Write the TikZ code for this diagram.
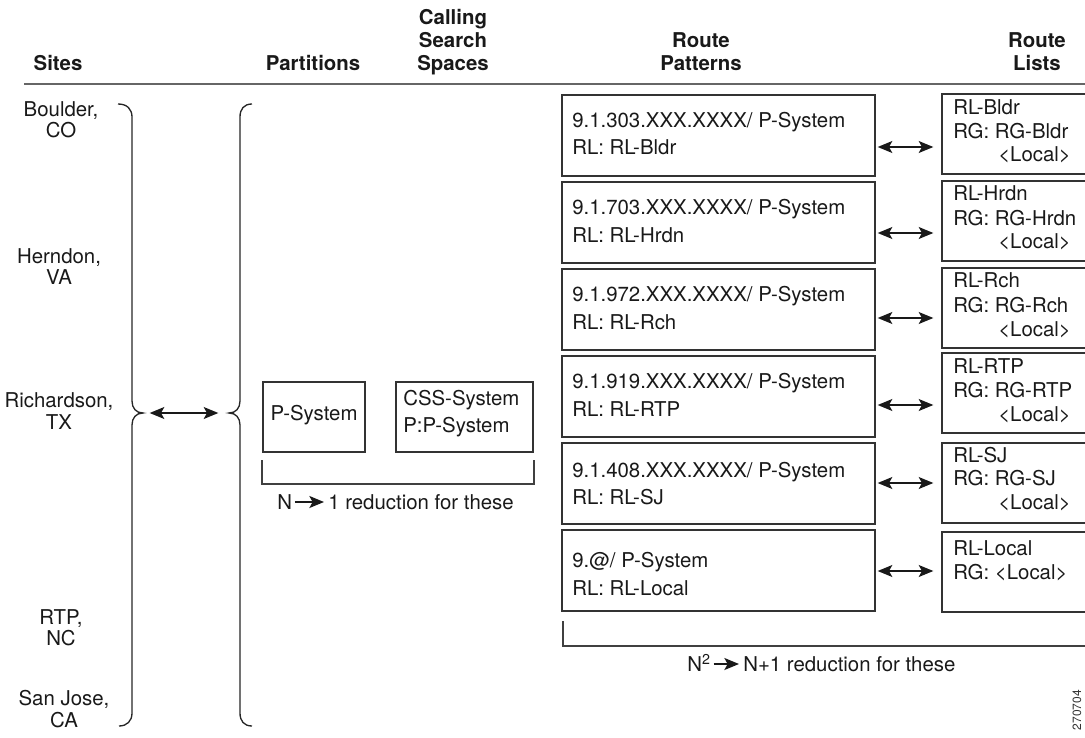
\documentclass[tikz,border=0pt]{standalone}
\usepackage{fontspec}
\setmainfont{TeX Gyre Heros}
\usetikzlibrary{arrows.meta}
\begin{document}
\begin{tikzpicture}[x=0.75pt,y=-0.75pt,
  txt/.style={inner sep=0pt, text height=11pt, text depth=0pt, font=\fontsize{15.3}{18}\selectfont, text=black!90},
  hdr/.style={txt, font=\fontsize{15.3}{18}\selectfont\bfseries},
  site/.style={inner sep=0pt, align=center, font=\fontsize{15.3}{16.1}\selectfont, text=black!90},
  pbox/.style={draw=black!80, line width=1pt, minimum width=234.75pt, minimum height=60.75pt, inner sep=0pt},
  lbox/.style={draw=black!80, line width=1pt, minimum width=114.75pt, minimum height=60pt, inner sep=0pt},
  sbox/.style={draw=black!80, line width=1pt, inner sep=0pt},
  dbl/.style={{Stealth[length=11pt,width=9pt,inset=2.5pt]}-{Stealth[length=11pt,width=9pt,inset=2.5pt]}, line width=1pt, draw=black!90},
  tarrow/.style={-{Stealth[length=11pt,width=9pt,inset=2.5pt]}, line width=1.3pt, draw=black!90},
  brk/.style={draw=black!75, line width=1pt},
  bracecurve/.style={draw=black!85, line width=1pt}
]
\useasboundingbox (0,0) rectangle (1085,738);
\clip (0,0) rectangle (1085,738);

% headers
\node[hdr] (hsites) at (58,63) {Sites};
\node[hdr] (hpart) at (313,63) {Partitions};
\node[hdr] (hcss1) at (453,17) {Calling};
\node[hdr] (hcss2) at (453,40) {Search};
\node[hdr] (hcss3) at (453,63) {Spaces};
\node[hdr] (hrp1) at (701,40) {Route};
\node[hdr] (hrp2) at (701,63) {Patterns};
\node[hdr] (hrl1) at (1037,40) {Route};
\node[hdr] (hrl2) at (1037,63) {Lists};
\draw[draw=black!60, line width=1.4pt] (24,84) -- (1090,84);

% sites
\node[site] (s1) at (61,119.5) {Boulder,\\CO};
\node[site] (s2) at (59,266.5) {Herndon,\\VA};
\node[site] (s3) at (59,411) {Richardson,\\TX};
\node[site] (s4) at (61,627.5) {RTP,\\NC};
\node[site] (s5) at (64,709) {San Jose,\\CA};

% braces
\draw[bracecurve] (118,104) .. controls (127,104) and (132,109) .. (132,117) -- (132,401)
  .. controls (132,408) and (136,413) .. (143,413) .. controls (136,413) and (132,418) .. (132,425)
  -- (132,713) .. controls (132,721) and (127,726) .. (119,726);
\draw[bracecurve] (252,104) .. controls (244,104) and (240,109) .. (240,117) -- (240,401)
  .. controls (240,408) and (236,413) .. (229,413) .. controls (236,413) and (240,418) .. (240,425)
  -- (240,713) .. controls (240,721) and (244,726) .. (252,726);
\coordinate (bl) at (143,413);
\coordinate (br) at (229,413);
\draw[dbl, shorten <=5pt, shorten >=8pt] (bl) -- (br);

% partitions and CSS
\node[sbox, minimum width=76.5pt, minimum height=52.5pt] (ps) at (314,417) {};
\node[txt] (pstxt) at (314,413) {P-System};
\node[sbox, minimum width=102.75pt, minimum height=52.5pt] (css) at (464.5,417) {};
\node[txt, anchor=west] (css1) at (403,398) {CSS-System};
\node[txt, anchor=west] (css2) at (403,425) {P:P-System};
\draw[brk] (262,460) -- (262,484) -- (534,484) -- (534,460);
\node[txt, anchor=west] (na) at (277,502) {N};
\node[txt, anchor=west] (nb) at (328,502) {1 reduction for these};
\draw[tarrow, shorten <=2pt, shorten >=3pt] (na) -- (nb);

% route pattern boxes
\node[pbox] (p1) at (718.5,135.5) {};
\node[pbox] (p2) at (718.5,222.5) {};
\node[pbox] (p3) at (718.5,309.5) {};
\node[pbox] (p4) at (718.5,396.5) {};
\node[pbox] (p5) at (718.5,483.5) {};
\node[pbox] (p6) at (718.5,570.5) {};
\node[txt, anchor=west] (p1a) at (572,120) {9.1.303.XXX.XXXX/ P-System};
\node[txt, anchor=west] (p1b) at (572,147) {RL: RL-Bldr};
\node[txt, anchor=west] (p2a) at (572,207) {9.1.703.XXX.XXXX/ P-System};
\node[txt, anchor=west] (p2b) at (572,235) {RL: RL-Hrdn};
\node[txt, anchor=west] (p3a) at (572,294) {9.1.972.XXX.XXXX/ P-System};
\node[txt, anchor=west] (p3b) at (572,322) {RL: RL-Rch};
\node[txt, anchor=west] (p4a) at (572,381) {9.1.919.XXX.XXXX/ P-System};
\node[txt, anchor=west] (p4b) at (572,409) {RL: RL-RTP};
\node[txt, anchor=west] (p5a) at (572,470) {9.1.408.XXX.XXXX/ P-System};
\node[txt, anchor=west] (p5b) at (572,497) {RL: RL-SJ};
\node[txt, anchor=west] (p6a) at (572,560) {9.@/ P-System};
\node[txt, anchor=west] (p6b) at (572,588) {RL: RL-Local};

% route list boxes
\node[lbox] (l1) at (1018.5,134) {};
\node[lbox] (l2) at (1018.5,221) {};
\node[lbox] (l3) at (1018.5,308) {};
\node[lbox] (l4) at (1018.5,393) {};
\node[lbox] (l5) at (1018.5,483) {};
\node[lbox] (l6) at (1018.5,572) {};
\node[txt, anchor=west] (l1a) at (953,107) {RL-Bldr};
\node[txt, anchor=west] (l1b) at (953,131) {RG: RG-Bldr};
\node[txt, anchor=west] (l1c) at (998,154) {\textless Local\textgreater};
\node[txt, anchor=west] (l2a) at (953,193) {RL-Hrdn};
\node[txt, anchor=west] (l2b) at (953,218) {RG: RG-Hrdn};
\node[txt, anchor=west] (l2c) at (998,241) {\textless Local\textgreater};
\node[txt, anchor=west] (l3a) at (953,280) {RL-Rch};
\node[txt, anchor=west] (l3b) at (953,305) {RG: RG-Rch};
\node[txt, anchor=west] (l3c) at (998,329) {\textless Local\textgreater};
\node[txt, anchor=west] (l4a) at (953,366) {RL-RTP};
\node[txt, anchor=west] (l4b) at (953,390) {RG: RG-RTP};
\node[txt, anchor=west] (l4c) at (998,414) {\textless Local\textgreater};
\node[txt, anchor=west] (l5a) at (953,455) {RL-SJ};
\node[txt, anchor=west] (l5b) at (953,478) {RG: RG-SJ};
\node[txt, anchor=west] (l5c) at (998,502) {\textless Local\textgreater};
\node[txt, anchor=west] (l6a) at (953,548) {RL-Local};
\node[txt, anchor=west] (l6b) at (953,572) {RG: \textless Local\textgreater};

% arrows between patterns and lists
\coordinate (a1) at (900,147);
\coordinate (a2) at (900,233);
\coordinate (a3) at (900,318);
\coordinate (a4) at (900,405);
\coordinate (a5) at (900,483);
\coordinate (a6) at (900,571);
\foreach \i in {1,...,6}{
  \draw[dbl, shorten <=1.5pt, shorten >=6pt] (p\i.east |- a\i) -- (l\i.west |- a\i);
}

% N^2 bracket
\draw[brk] (563,621) -- (563,646) -- (1095,646);
\node[txt, anchor=west] (nc) at (687,664) {N\textsuperscript{2}};
\node[txt, anchor=west] (nd) at (743,664) {N+1 reduction for these};
\draw[tarrow, shorten <=2pt, shorten >=3pt] (nc) -- (nd);

% figure id
\node[rotate=90, inner sep=0pt, font=\fontsize{9}{10}\selectfont, text=black!80] (figid) at (1077,710) {270704};
\end{tikzpicture}
\end{document}
